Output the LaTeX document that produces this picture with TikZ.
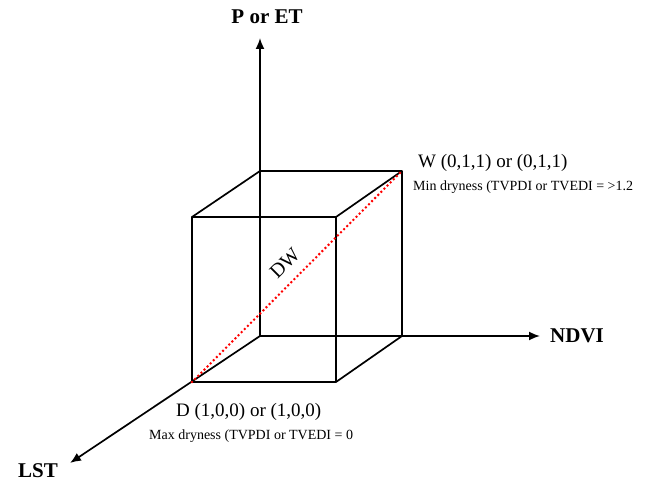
\documentclass[tikz,border=0pt]{standalone}
\usepackage{fontspec}
\setmainfont{Liberation Serif}
\usetikzlibrary{arrows.meta}

\tikzset{
  axis/.style={line width=1.7pt, -{Latex[length=11pt,width=9pt]}},
  edge/.style={line width=1.7pt, line join=round},
  diag/.style={red, line width=2.8pt, line cap=round, dash pattern=on 0pt off 4.4pt},
  axlabel/.style={font=\fontsize{21}{24}\selectfont\bfseries, inner sep=0pt},
  ptlabel/.style={font=\fontsize{19}{22}\selectfont, inner sep=0pt, anchor=west},
  note/.style={font=\fontsize{14}{16}\selectfont, inner sep=0pt, anchor=west}
}

\begin{document}
\begin{tikzpicture}[x=1pt, y=-1pt]
    \useasboundingbox (0,0) rectangle (646,484);

    % axes
    \coordinate (O) at (260,336);
    \coordinate (ptip) at (260,38);
    \coordinate (ntip) at (540,336);
    \coordinate (ltip) at (70,463);
    \node (pet) [axlabel] at (267,17) {P or ET};
    \node (ndvi) [axlabel, anchor=west] at (550,336) {NDVI};
    \node (lst) [axlabel] at (38,471) {LST};
    \draw [axis] (O) -- (ptip);
    \draw [axis] (O) -- (ntip);
    \draw [axis] (O) -- (ltip);

    % cube corners
    \coordinate (bbl) at (260,336);
    \coordinate (bbr) at (402,336);
    \coordinate (btl) at (260,171);
    \coordinate (btr) at (402,171);
    \coordinate (fbl) at (192,382);
    \coordinate (fbr) at (336,382);
    \coordinate (ftl) at (192,217);
    \coordinate (ftr) at (336,217);

    \draw [edge] (fbl) -- (fbr) -- (ftr) -- (ftl) -- cycle;
    \draw [edge] (btl) -- (btr) -- (bbr) -- (bbl);
    \draw [edge] (ftl) -- (btl);
    \draw [edge] (ftr) -- (btr);
    \draw [edge] (fbr) -- (bbr);

    % diagonal
    \draw [diag] (fbl) -- (btr);
    \node (dw) [font=\fontsize{20}{22}\selectfont, inner sep=0pt, rotate=45] at (285,263) {DW};

    % corner labels
    \node (w) [ptlabel] at (418,163) {W (0,1,1) or (0,1,1)};
    \node (wnote) [note] at (413,187) {Min dryness (TVPDI or TVEDI = >1.2};
    \node (d) [ptlabel] at (176,412) {D (1,0,0) or (1,0,0)};
    \node (dnote) [note] at (149,436) {Max dryness (TVPDI or TVEDI = 0};
\end{tikzpicture}
\end{document}
